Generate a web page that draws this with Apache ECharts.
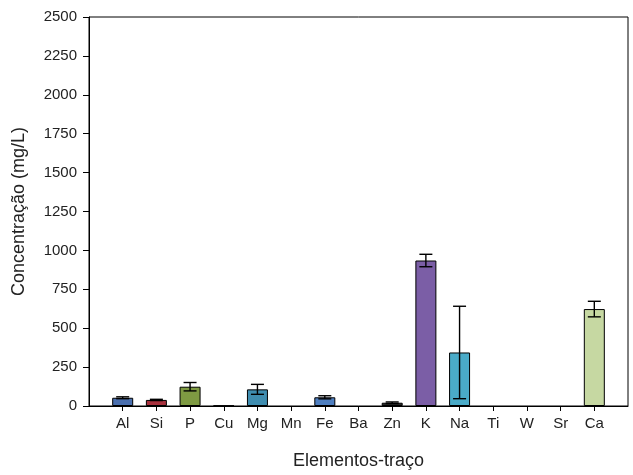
<!DOCTYPE html>
<html>
<head>
<meta charset="utf-8">
<script src="https://cdn.jsdelivr.net/npm/echarts@6/dist/echarts.min.js"></script>
<style>html,body{margin:0;padding:0;background:#fff}#c{width:633px;height:475px}</style>
</head>
<body>
<div id="c"></div>
<script>
const categories = ['Al','Si','P','Cu','Mg','Mn','Fe','Ba','Zn','K','Na','Ti','W','Sr','Ca'];
const values = [53, 39, 124, 3, 107, 0, 56, 0, 21, 935, 344, 0, 0, 0, 623];
const errors = [6, 4, 27, 0, 32, 0, 10, 0, 5, 40, 297, 0, 0, 0, 50];
const colors = ['#4a6fae','#a8323e','#7e9a42','#6f6f6f','#3f8db0','#888888','#4f7fc0','#888888','#2a2a2a','#7b5ea6','#4aabc8','#888888','#888888','#888888','#c6d8a2'];
const yTicks = [0, 250, 500, 750, 1000, 1250, 1500, 1750, 2000, 2250, 2500];

const axisCats = [''].concat(categories, ['']);
const barData = [{value: null}].concat(values.map((v, i) => ({
  value: v === 0 ? null : v,
  itemStyle: {color: colors[i]}
})), [{value: null}]);
const errData = [];
values.forEach((v, i) => { if (errors[i] > 0) errData.push([i + 1, v - errors[i], v + errors[i]]); });

const chart = echarts.init(document.getElementById('c'));
chart.setOption({
  animation: false,
  textStyle: {fontFamily: 'Liberation Sans, Arial, sans-serif'},
  grid: {left: 89, right: 5, top: 17, bottom: 69, show: true, borderColor: '#000', borderWidth: 1, backgroundColor: 'transparent'},
  xAxis: {
    type: 'category',
    data: axisCats,
    boundaryGap: false,
    name: 'Elementos-traço',
    nameLocation: 'middle',
    nameGap: 46,
    nameTextStyle: {fontSize: 18, color: '#222'},
    axisLine: {lineStyle: {color: '#000', width: 1}},
    axisTick: {length: 5, lineStyle: {color: '#000'}, interval: (i) => i > 0 && i < axisCats.length - 1},
    axisLabel: {fontSize: 15, color: '#222', margin: 10, interval: 0},
    splitLine: {show: false}
  },
  yAxis: {
    type: 'value',
    min: 0, max: 2500, interval: 250,
    name: 'Concentração (mg/L)',
    nameLocation: 'middle',
    nameGap: 61,
    nameTextStyle: {fontSize: 18, color: '#222'},
    axisLine: {show: true, lineStyle: {color: '#000', width: 1}},
    axisTick: {show: true, length: 6, lineStyle: {color: '#000'}},
    axisLabel: {fontSize: 15, color: '#222', margin: 12, formatter: (v) => yTicks.includes(v) ? String(v) : ''},
    splitLine: {show: false}
  },
  series: [
    {
      type: 'bar',
      data: barData,
      barWidth: 21,
      itemStyle: {borderColor: '#000', borderWidth: 1}
    },
    {
      type: 'custom',
      data: errData,
      z: 10,
      renderItem: function (params, api) {
        const x = api.value(0);
        const lo = api.coord([x, api.value(1)]);
        const hi = api.coord([x, api.value(2)]);
        const hw = 6.5;
        const st = {stroke: '#000', lineWidth: 1.4};
        return {
          type: 'group',
          children: [
            {type: 'line', shape: {x1: lo[0], y1: lo[1], x2: hi[0], y2: hi[1]}, style: st},
            {type: 'line', shape: {x1: lo[0] - hw, y1: lo[1], x2: lo[0] + hw, y2: lo[1]}, style: st},
            {type: 'line', shape: {x1: hi[0] - hw, y1: hi[1], x2: hi[0] + hw, y2: hi[1]}, style: st}
          ]
        };
      }
    }
  ]
});
</script>
</body>
</html>
